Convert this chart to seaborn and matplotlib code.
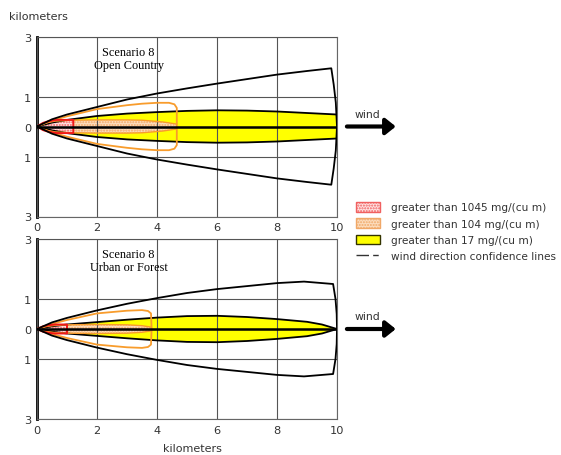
import numpy as np
import matplotlib
matplotlib.use('Agg')
import matplotlib.pyplot as plt
import seaborn as sns
import pandas as pd
from matplotlib.patches import Patch
from matplotlib.lines import Line2D

# Threat zone footprints (km downwind, half-width km)
x_ticks = [0, 2, 4, 6, 8, 10]
y_ticks = [-3, -1, 0, 1, 3]
y_tick_labels = ['3', '1', '0', '1', '3']

# Scenario 8 - Open Country
conf_x_open = [0, 0.5, 1, 2, 3, 4, 5, 6, 7, 8, 9, 9.81, 9.89, 9.96, 10.0]
conf_y_open = [0, 0.24, 0.40, 0.65, 0.90, 1.10, 1.27, 1.43, 1.58, 1.73, 1.85, 1.94, 1.40, 0.80, 0.0]
yel_x_open = [0, 0.5, 1, 2, 3, 4, 5, 6, 7, 8, 9, 10]
yel_w_open = [0, 0.13, 0.22, 0.35, 0.43, 0.48, 0.52, 0.54, 0.53, 0.50, 0.45, 0.40]
org_x_open = [0, 0.5, 1, 2, 3, 3.5, 4, 4.4, 4.58, 4.66, 4.66]
org_w_open = [0, 0.20, 0.34, 0.58, 0.71, 0.76, 0.79, 0.79, 0.74, 0.62, 0]
pch_x_open = [0, 0.3, 0.6, 1.2, 2, 3, 3.5, 4.2, 4.66]
pch_w_open = [0, 0.12, 0.18, 0.21, 0.22, 0.22, 0.21, 0.15, 0.08]
red_x_open = [0, 0.2, 0.4, 0.66, 1.21, 1.21]
red_w_open = [0, 0.12, 0.18, 0.22, 0.22, 0]

# Scenario 8 - Urban or Forest
conf_x_urb = [0, 0.5, 1, 2, 3, 4, 5, 6, 7, 8, 8.9, 9.87, 9.95, 9.99, 10.0]
conf_y_urb = [0, 0.22, 0.37, 0.62, 0.84, 1.03, 1.20, 1.33, 1.43, 1.53, 1.58, 1.50, 1.00, 0.50, 0.0]
yel_x_urb = [0, 0.5, 1, 2, 3, 4, 5, 6, 7, 8, 9, 9.5, 10]
yel_w_urb = [0, 0.09, 0.15, 0.23, 0.31, 0.38, 0.43, 0.44, 0.40, 0.33, 0.24, 0.15, 0]
org_x_urb = [0, 0.5, 1, 2, 3, 3.5, 3.7, 3.8, 3.82]
org_w_urb = [0, 0.17, 0.30, 0.52, 0.61, 0.63, 0.60, 0.52, 0]
pch_x_urb = [0, 0.3, 0.6, 1.0, 2, 3, 3.5, 3.82]
pch_w_urb = [0, 0.08, 0.12, 0.14, 0.15, 0.14, 0.11, 0.06]
red_x_urb = [0, 0.2, 0.4, 0.6, 1.0, 1.0]
red_w_urb = [0, 0.09, 0.13, 0.15, 0.15, 0]

legend_labels = ['greater than 1045 mg/(cu m)', 'greater than 104 mg/(cu m)',
                 'greater than 17 mg/(cu m)', 'wind direction confidence lines']

sns.set_theme(style='white')
plt.rcParams['font.family'] = ['DejaVu Sans']

TXT = '#333333'
YELLOW = '#FFFF00'
PEACH = '#FCDDBE'
ORANGE = '#F89C2C'
PINK = '#FFE2E2'
RED = '#F01818'


def outline(x, w):
    return list(x) + list(x)[::-1], list(w) + [-v for v in list(w)[::-1]]


def draw_scenario(ax, conf_x, conf_y, yel_x, yel_w, org_x, org_w,
                  pch_x, pch_w, red_x, red_w, title):
    # yellow zone
    ax.fill_between(yel_x, [-v for v in yel_w], yel_w, facecolor=YELLOW,
                    edgecolor='none', zorder=1)
    ax.plot(yel_x, yel_w, color='black', lw=1.3, zorder=3)
    ax.plot(yel_x, [-v for v in yel_w], color='black', lw=1.3, zorder=3)
    # orange zone (inner dotted fill)
    ax.fill_between(pch_x, [-v for v in pch_w], pch_w, facecolor=PEACH,
                    edgecolor='#F0A868', hatch='......', linewidth=0, zorder=1.5)
    ax.plot(pch_x, pch_w, color=ORANGE, lw=1.0, zorder=3)
    ax.plot(pch_x, [-v for v in pch_w], color=ORANGE, lw=1.0, zorder=3)
    # red zone
    ax.fill_between(red_x, [-v for v in red_w], red_w, facecolor=PINK,
                    edgecolor='#F06060', hatch='......', linewidth=0, zorder=1.8)
    rx, ry = outline(red_x, red_w)
    ax.plot(rx, ry, color=RED, lw=1.4, zorder=3.5)
    # orange zone outer outline
    ox, oy = outline(org_x, org_w)
    ax.plot(ox, oy, color=ORANGE, lw=1.3, zorder=3.2)
    # wind direction confidence lines
    cx, cy = outline(conf_x, conf_y)
    conf = pd.DataFrame({'x': cx, 'y': cy})
    sns.lineplot(data=conf, x='x', y='y', sort=False, estimator=None,
                 color='black', lw=1.3, ax=ax, zorder=4)
    ax.plot([0, 10], [0, 0], color='black', lw=1.8, zorder=5)

    ax.set_xlim(0, 10)
    ax.set_ylim(-3, 3)
    ax.set_xticks(x_ticks)
    ax.set_yticks(y_ticks)
    ax.set_yticklabels(y_tick_labels)
    ax.set_xlabel('')
    ax.set_ylabel('')
    ax.set_axisbelow(False)
    ax.grid(True, color='#555555', lw=0.8, zorder=2.5)
    ax.tick_params(length=0, labelsize=8.2, labelcolor=TXT, pad=4)
    for s in ax.spines.values():
        s.set_color('#666666')
        s.set_linewidth(0.8)
    ax.spines['left'].set_color('black')
    ax.spines['left'].set_linewidth(2.0)
    ax.text(3.05, 2.7, title, family='Liberation Serif', fontsize=8.8,
            ha='center', va='top', color='black', linespacing=1.15)
    # wind arrow
    ax.annotate('', xy=(11.96, 0), xytext=(10.33, 0), annotation_clip=False,
                arrowprops=dict(arrowstyle='-|>,head_length=0.5,head_width=0.4',
                                lw=3.0, color='black', shrinkA=0, shrinkB=0,
                                mutation_scale=12))
    ax.text(11.0, 0.42, 'wind', fontsize=7.8, color=TXT, ha='center',
            va='center', clip_on=False)


fig = plt.figure(figsize=(5.61, 4.56), dpi=100)
ax1 = fig.add_axes([37 / 561, 1 - 217.5 / 456, 300 / 561, 180 / 456])
ax2 = fig.add_axes([37 / 561, 1 - 420 / 456, 300 / 561, 180 / 456])

draw_scenario(ax1, conf_x_open, conf_y_open, yel_x_open, yel_w_open,
              org_x_open, org_w_open, pch_x_open, pch_w_open,
              red_x_open, red_w_open, 'Scenario 8\nOpen Country')
draw_scenario(ax2, conf_x_urb, conf_y_urb, yel_x_urb, yel_w_urb,
              org_x_urb, org_w_urb, pch_x_urb, pch_w_urb,
              red_x_urb, red_w_urb, 'Scenario 8\nUrban or Forest')

ax2.set_xlabel('kilometers', fontsize=8, color=TXT)
ax2.xaxis.set_label_coords(0.518, -0.135)
fig.text(9 / 561, 1 - 17 / 456, 'kilometers', fontsize=8, color=TXT,
         va='center', ha='left')

handles = [
    Patch(facecolor=PINK, edgecolor='#F06060', hatch='......', lw=1.0),
    Patch(facecolor=PEACH, edgecolor='#F0A868', hatch='......', lw=1.0),
    Patch(facecolor=YELLOW, edgecolor='#333300', lw=1.0),
    Line2D([0], [0], color='#333333', lw=1.0, dashes=(9, 3, 4, 3)),
]
fig.legend(handles, legend_labels, loc='upper left',
           bbox_to_anchor=(356 / 561, 1 - 203 / 456), frameon=False,
           fontsize=7.6, labelcolor=TXT, handlelength=2.3, handleheight=1.05,
           handletextpad=1.0, labelspacing=0.55, borderpad=0, borderaxespad=0)

fig.savefig('out.png', dpi=100)
